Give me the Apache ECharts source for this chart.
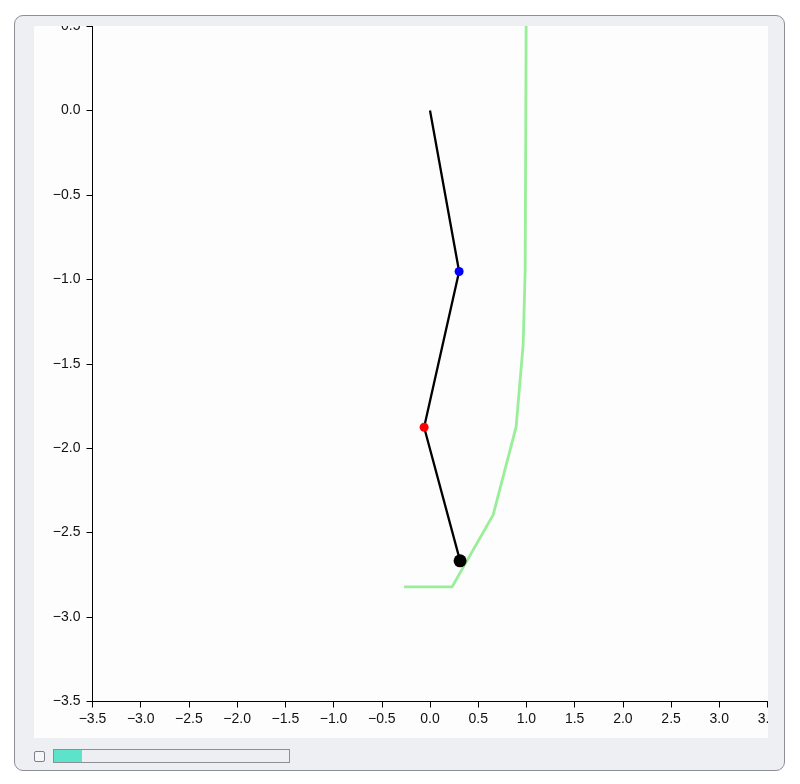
<!DOCTYPE html>
<html>
<head>
<meta charset="utf-8">
<script src="https://cdn.jsdelivr.net/npm/echarts@6/dist/echarts.min.js"></script>
<style>
  html, body { margin: 0; padding: 0; background: #ffffff; width: 800px; height: 784px; overflow: hidden; }
  #frame { position: absolute; left: 14px; top: 15px; width: 769px; height: 754px; border: 1px solid #8c8f96; border-radius: 9px; background: #eeeff3; }
  #chart { position: absolute; left: 34px; top: 26px; width: 734px; height: 712px; background: #fdfdfd; }
  #chk { position: absolute; left: 34px; top: 751px; width: 9px; height: 9px; border: 1px solid #7d8088; border-radius: 2px; background: #f7f7f9; }
  #bar { position: absolute; left: 53px; top: 749px; width: 235px; height: 12px; border: 1px solid #8c8f96; background: #eeeff3; }
  #fill { position: absolute; left: 0; top: 0; width: 28px; height: 12px; background: #5ce3c9; }
</style>
</head>
<body>
<div id="frame"></div>
<div id="chart"></div>
<div id="chk"></div>
<div id="bar"><div id="fill"></div></div>
<script>
// Pendulum arm joints: pivot, bob 1, bob 2, bob 3
const armX = [0.0, 0.302, -0.061, 0.312];
const armY = [0.0, -0.954, -1.876, -2.667];
// Trace of the last bob
const traceX = [-0.269, 0.229, 0.655, 0.893, 0.966, 0.987, 0.997];
const traceY = [-2.821, -2.821, -2.395, -1.874, -1.388, -0.944, 0.5];
// Bob colours and sizes
const bobColors = ['#0000ff', '#ff0000', '#000000'];
const bobSizes = [9, 9, 13];

const fmt = v => v.toFixed(1).replace('-', '\u2212');

const chart = echarts.init(document.getElementById('chart'));
const series = [
  {
    type: 'line',
    data: traceX.map((x, i) => [x, traceY[i]]),
    showSymbol: false,
    symbol: 'none',
    lineStyle: { color: '#98ef98', width: 2.8 },
    clip: true,
    z: 1,
    animation: false
  },
  {
    type: 'line',
    data: armX.map((x, i) => [x, armY[i]]),
    symbol: 'none',
    lineStyle: { color: '#000000', width: 2.3 },
    z: 2,
    animation: false
  }
];
for (let i = 1; i < armX.length; i++) {
  series.push({
    type: 'scatter',
    data: [[armX[i], armY[i]]],
    symbolSize: bobSizes[i - 1],
    itemStyle: { color: bobColors[i - 1], opacity: 1 },
    z: 3,
    animation: false
  });
}

const axisCommon = {
  type: 'value',
  interval: 0.5,
  axisLine: { show: true, onZero: false, lineStyle: { color: '#000000', width: 1 } },
  axisTick: { show: true, length: 6, lineStyle: { color: '#000000' } },
  splitLine: { show: false },
  axisLabel: { formatter: fmt, color: '#111111', fontSize: 14, fontFamily: 'Liberation Sans, Arial, sans-serif', showMinLabel: true, showMaxLabel: true, hideOverlap: false }
};

chart.setOption({
  animation: false,
  backgroundColor: '#fdfdfd',
  grid: { left: 58.5, top: 0, right: 0.5, bottom: 36.5, containLabel: false, outerBoundsMode: 'none' },
  xAxis: Object.assign({}, axisCommon, { min: -3.5, max: 3.5, axisLabel: Object.assign({}, axisCommon.axisLabel, { margin: 11 }) }),
  yAxis: Object.assign({}, axisCommon, { min: -3.5, max: 0.5, axisLabel: Object.assign({}, axisCommon.axisLabel, { margin: 12 }) }),
  series: series
});
</script>
</body>
</html>
